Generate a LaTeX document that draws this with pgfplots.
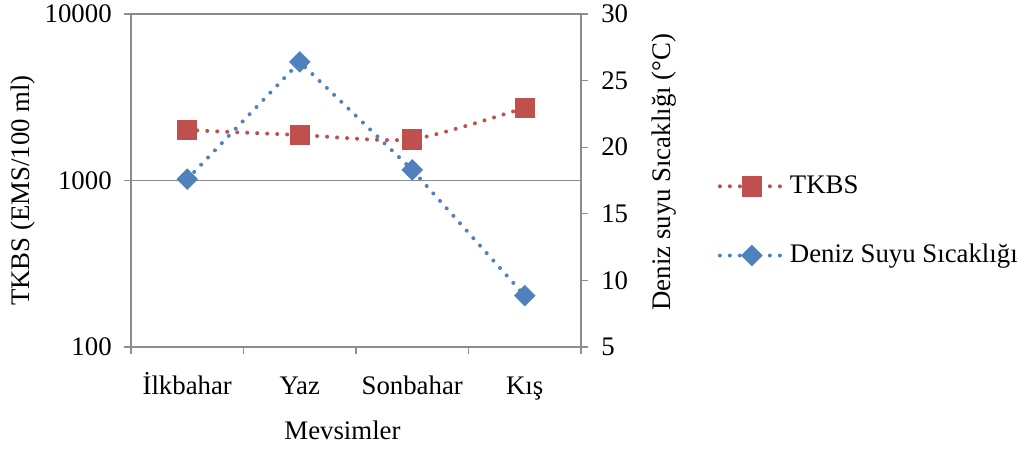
\documentclass[border=0pt]{standalone}
\usepackage{fontspec}
\setmainfont{Liberation Serif}
\usepackage{pgfplots}
\pgfplotsset{compat=1.18}
\definecolor{tred}{HTML}{C0504D}
\definecolor{tblue}{HTML}{4F81BD}
\definecolor{axgray}{HTML}{8C8C8C}
\begin{document}
\fontsize{13.4}{16}\selectfont
\begin{tikzpicture}
\pgfplotsset{
  every axis/.append style={
    scale only axis, width=225pt, height=166.5pt,
    xmin=0, xmax=4,
    axis line style={axgray, line width=0.6pt},
    tick style={axgray, line width=0.6pt},
    tick align=outside, major tick length=3.5pt,
    font=\fontsize{13.4}{16}\selectfont,
    /pgf/number format/assume math mode=true,
  },
  legend image code/.code={\draw[mark repeat=2,mark phase=2,#1] plot coordinates {(0pt,0pt) (16pt,0pt) (32pt,0pt)};},
}
\begin{axis}[
  ymode=log, ymin=100, ymax=10000,
  ytick={100,1000,10000}, yticklabels={100,1000,10000},
  yminorticks=false,
  axis y line*=left, axis x line*=bottom,
  ymajorgrids, major grid style={axgray, line width=0.6pt},
  xtick={0,1,2,3,4}, xticklabels={,,,,},
  extra x ticks={0.5,1.5,2.5,3.5},
  extra x tick labels={İlkbahar,Yaz,Sonbahar,Kış},
  extra x tick style={major tick length=0pt, grid=none},
  xticklabel style={anchor=base, yshift=-24pt},
  yticklabel style={xshift=-1.5pt},
  ylabel={TKBS (EMS/100 ml)},
  ylabel style={at={(axis description cs:-0.24,0.47)}, anchor=center},
  xlabel={Mevsimler},
  xlabel style={at={(axis description cs:0.47,-0.279)}, anchor=base},
]
\coordinate (O) at (rel axis cs:0,0);
\addplot[tred, line width=2pt, dash pattern=on 0pt off 5pt, line cap=round, smooth, tension=0.4,
  mark=square*, mark size=4.8pt, mark options={solid, fill=tred, draw=tred, line width=0.4pt}]
  coordinates {(0.5,2010) (1.5,1876) (2.5,1767) (3.5,2737)};
\end{axis}
\begin{axis}[
  ymin=5, ymax=30,
  ytick={5,10,15,20,25,30}, yticklabels={5,10,15,20,25,30},
  yticklabel style={xshift=2pt},
  axis y line*=right, axis x line=none,
  ylabel={Deniz suyu Sıcaklığı (°C)},
  ylabel style={at={(axis description cs:1.185,0.525)}, anchor=center, rotate=0},
  legend style={at={(1.29,0.378)}, anchor=west, draw=none, fill=none, row sep=19.5pt,
    font=\fontsize{13.4}{16}\selectfont},
  legend cell align=left,
]
\addlegendimage{tred, line width=2pt, dash pattern=on 0pt off 5pt, line cap=round,
  mark=square*, mark size=4.8pt, mark options={solid, fill=tred, draw=tred, line width=0.4pt}}
\addlegendentry{TKBS}
\addplot[tblue, line width=2pt, dash pattern=on 0pt off 5pt, line cap=round,
  mark=square*, mark size=3.6pt, mark options={rotate=45, solid, fill=tblue, draw=tblue, line width=0.4pt}]
  coordinates {(0.5,17.6) (1.5,26.4) (2.5,18.3) (3.5,8.85)};
\addlegendentry{Deniz Suyu Sıcaklığı}
\end{axis}
\fill[white] (O) ++(-65.5pt,-51.5pt) rectangle ++(514pt,5pt);
\pgfresetboundingbox
\path (O) ++(-65.5pt,-51.5pt) rectangle ++(514pt,225pt);
\end{tikzpicture}
\end{document}
